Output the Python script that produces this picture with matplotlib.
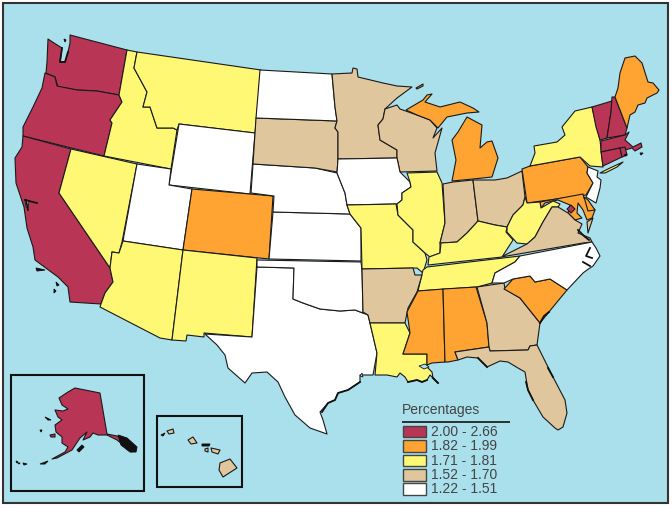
import matplotlib
matplotlib.use("Agg")
import matplotlib.pyplot as plt
from matplotlib.patches import Polygon, Rectangle

plt.rcParams['font.family'] = ['Liberation Sans', 'DejaVu Sans']

legend_title = "Percentages"
class_labels = ["2.00 - 2.66", "1.82 - 1.99", "1.71 - 1.81", "1.52 - 1.70", "1.22 - 1.51"]
class_colors = ["#B93556", "#FFA333", "#FFF875", "#E0C69C", "#FFFFFF"]
ocean = "#A9E0EC"

# class index (0 = highest) of each state
state_class = {
    "WA": 0, "OR": 0, "CA": 0, "NV": 2, "ID": 2, "MT": 2, "WY": 4, "UT": 4, "CO": 1, "AZ": 2, "NM": 2,
    "TX": 4, "OK": 4, "KS": 4, "NE": 4, "SD": 3, "ND": 4, "MN": 3, "WI": 3, "IA": 4, "MO": 2, "IL": 2,
    "IN": 3, "MI": 1, "OH": 3, "PA": 1, "NY": 2, "NJ": 4, "VT": 0, "NH": 0, "ME": 1, "MA": 0, "CT": 0,
    "RI": 0, "MD": 1, "DE": 1, "DC": 0, "WV": 2, "VA": 3, "KY": 2, "TN": 2, "AR": 3, "LA": 2, "MS": 1,
    "AL": 1, "GA": 3, "SC": 1, "NC": 4, "FL": 3, "AK": 0, "HI": 3,
}

# state outlines (x, y in image pixels)
state_shapes = {
    "WA": [[(70,35),(127,50),(119,95),(108,93),(97,91),(77,90),(66,88),(58,87),(55,77),(46,73),(47,62),(48,39),(54,43),(62,48),(60,62),(65,62),(68,52),(70,43)]],
    "OR": [[(45,73),(55,77),(57,86),(77,90),(97,91),(119,95),(122,102),(110,120),(112,123),(104,156),(23,136),(23,127),(33,107),(42,88)]],
    "CA": [[(23,136),(71,149),(59,193),(110,268),(113,282),(105,293),(101,304),(70,302),(68,287),(58,277),(35,260),(33,247),(27,228),(24,207),(16,183),(15,158),(22,147)]],
    "NV": [[(71,149),(137,164),(122,242),(119,253),(112,252),(110,268),(59,193)]],
    "ID": [[(127,50),(137,52),(134,68),(147,92),(143,107),(150,107),(157,128),(173,128),(177,130),(171,169),(104,156),(112,123),(110,120),(122,102),(119,95)]],
    "MT": [[(137,52),(261,70),(255,133),(179,124),(177,130),(173,128),(157,128),(150,107),(143,107),(147,92),(134,68)]],
    "WY": [[(179,124),(255,133),(250,194),(169,185)]],
    "UT": [[(137,164),(171,169),(169,185),(192,189),(183,250),(123,241)]],
    "CO": [[(192,189),(273,196),(269,259),(183,250)]],
    "AZ": [[(123,241),(183,250),(172,340),(160,338),(100,307),(101,304),(105,293),(113,282),(110,268),(112,252),(119,253)]],
    "NM": [[(183,250),(257,258),(252,337),(204,333),(204,337),(187,335),(186,341),(172,340)]],
    "TX": [[(257,267),(294,268),(293,299),(303,303),(320,309),(340,311),(355,310),(368,315),(370,323),(377,353),(373,375),(360,375),(360,382),(348,390),(338,393),(335,400),(328,403),(320,412),(323,420),(327,434),(310,428),(295,415),(285,397),(278,382),(267,372),(252,373),(245,383),(228,368),(225,355),(217,345),(205,334),(252,337)]],
    "OK": [[(257,260),(361,262),(362,270),(363,313),(355,310),(340,311),(320,309),(303,303),(293,299),(294,268),(257,267)]],
    "KS": [[(273,212),(350,214),(357,223),(361,228),(361,261),(269,259)]],
    "NE": [[(253,164),(315,168),(337,173),(345,193),(347,205),(350,214),(273,212),(274,196),(251,193)]],
    "SD": [[(256,118),(337,121),(335,128),(338,132),(338,160),(337,172),(315,168),(253,164)]],
    "ND": [[(260,70),(332,74),(335,107),(337,121),(256,118)]],
    "MN": [[(332,74),(352,73),(353,68),(357,69),(358,77),(383,83),(397,86),(412,87),(397,98),(385,109),(383,119),(378,125),(380,140),(397,150),(397,158),(338,159),(338,132),(335,128),(337,121),(335,107)]],
    "WI": [[(385,109),(397,105),(400,109),(417,115),(430,120),(437,128),(433,138),(442,128),(435,153),(437,171),(400,172),(397,158),(397,150),(380,140),(378,125),(383,119)]],
    "IA": [[(338,159),(397,158),(400,172),(410,182),(411,187),(402,193),(402,200),(397,204),(347,205),(345,193),(337,173)]],
    "MO": [[(347,205),(396,204),(398,215),(413,230),(413,242),(425,253),(427,260),(423,273),(417,268),(362,269),(361,228),(357,223),(350,214)]],
    "IL": [[(407,173),(437,172),(442,183),(445,223),(440,243),(440,253),(430,257),(425,253),(413,242),(413,230),(398,215),(397,204),(402,200),(402,193),(411,187),(410,182)]],
    "IN": [[(443,184),(453,182),(473,180),(478,221),(467,233),(457,242),(443,243),(440,243),(445,223)]],
    "MI": [[(452,181),(473,179),(492,177),(498,158),(492,141),(487,142),(480,148),(482,125),(467,117),(458,132),(452,140),(456,160)],
           [(406,110),(423,100),(427,95),(432,94),(425,102),(440,107),(460,102),(473,108),(479,112),(467,113),(447,117),(438,128),(430,120),(417,115)],
           [(416,88),(423,84),(423,86),(417,89)]],
    "OH": [[(473,180),(495,180),(507,178),(522,171),(525,197),(523,205),(513,215),(507,227),(495,225),(478,221)]],
    "PA": [[(522,169),(530,166),(580,157),(588,167),(587,173),(593,183),(586,195),(527,203)]],
    "NY": [[(530,166),(535,153),(534,146),(557,142),(565,135),(562,127),(575,111),(592,107),(600,140),(603,167),(590,166),(580,157)],
           [(600,173),(610,168),(623,162),(617,167),(605,173)]],
    "NJ": [[(588,167),(598,171),(597,177),(601,180),(600,188),(596,203),(586,197),(593,183),(587,173)]],
    "VT": [[(592,107),(612,101),(611,112),(607,138),(600,140),(596,127)]],
    "NH": [[(612,97),(615,97),(627,128),(625,135),(607,138),(611,112)]],
    "ME": [[(615,97),(618,88),(620,73),(625,58),(635,56),(642,63),(648,82),(653,83),(659,90),(657,93),(647,98),(645,103),(638,105),(635,112),(630,115),(627,128)]],
    "MA": [[(601,141),(625,135),(629,132),(625,140),(633,147),(641,143),(642,147),(635,151),(632,148),(625,150),(620,148),(601,152)]],
    "CT": [[(601,152),(620,148),(622,157),(603,166)]],
    "RI": [[(620,148),(625,147),(627,155),(622,157)]],
    "MD": [[(540,202),(583,194),(584,198),(595,210),(592,218),(587,220),(583,210),(578,203),(577,213),(582,218),(575,220),(568,213),(570,205),(558,200),(553,201),(545,203),(541,208)]],
    "DE": [[(584,197),(588,200),(595,210),(588,211)]],
    "WV": [[(525,197),(527,203),(540,202),(541,208),(553,201),(560,204),(558,207),(552,207),(543,222),(535,237),(527,244),(517,243),(507,232),(507,227),(513,215),(523,205)]],
    "VA": [[(501,257),(515,250),(527,244),(535,237),(543,222),(552,207),(558,207),(568,213),(575,220),(582,224),(578,233),(590,238),(592,242),(583,243)],
           [(593,218),(588,233),(587,222)]],
    "KY": [[(429,257),(440,253),(441,243),(457,242),(467,233),(478,221),(495,225),(507,227),(506,232),(513,240),(502,257),(428,265)]],
    "TN": [[(427,267),(520,256),(515,262),(495,273),(492,283),(477,287),(418,291),(423,270)]],
    "AR": [[(362,269),(413,268),(415,275),(422,275),(417,292),(408,308),(405,323),(370,323),(368,315),(363,312)]],
    "LA": [[(370,323),(405,323),(410,333),(403,354),(427,354),(427,365),(428,368),(432,372),(433,378),(438,383),(430,375),(427,380),(422,382),(417,380),(408,382),(405,377),(400,373),(397,377),(387,375),(375,375),(377,353)]],
    "MS": [[(418,291),(443,289),(445,362),(432,363),(427,365),(427,354),(403,354),(410,333),(407,312)]],
    "AL": [[(443,289),(476,287),(487,323),(489,347),(455,352),(458,360),(448,362),(445,362)]],
    "GA": [[(477,287),(504,283),(505,289),(520,298),(540,323),(537,345),(530,346),(528,350),(490,351),(489,347),(487,323)]],
    "SC": [[(504,289),(513,279),(530,276),(535,282),(550,279),(567,290),(553,307),(540,323),(520,298)]],
    "NC": [[(492,283),(495,273),(515,262),(520,256),(592,242),(596,248),(600,256),(593,266),(587,270),(583,273),(567,290),(550,279),(535,282),(530,276),(513,279),(504,283)]],
    "FL": [[(455,352),(489,347),(490,351),(528,350),(530,346),(537,345),(553,377),(565,400),(567,413),(563,427),(558,430),(555,428),(543,417),(533,400),(528,390),(525,372),(518,368),(508,362),(500,361),(487,367),(478,358),(467,357),(458,360)]],
    "DC": [[(571,205),(575,209),(571,213),(567,209)]],
    "AK": [[(75,388),(100,393),(107,434),(117,436),(127,443),(133,447),(132,452),(117,440),(107,435),(98,435),(93,433),(90,437),(83,440),(87,432),(80,438),(72,450),(57,458),(52,459),(65,452),(68,447),(62,443),(62,437),(56,432),(55,425),(62,420),(58,417),(55,410),(63,411),(68,409),(62,405),(59,398),(68,392)],
           [(50,435),(55,434),(55,437),(51,437)]],
    "HI": [[(220,463),(230,459),(237,468),(223,477),(219,470)],
           [(211,448),(220,450),(218,454),(212,452)],
           [(188,440),(193,437),(197,443),(191,444)],
           [(167,431),(173,429),(174,433),(169,434)],
           [(205,449),(208,448),(208,452),(205,451)]],
}

# small dark islands
dark_islands = [
    [(118,435),(127,438),(137,447),(136,452),(130,452),(121,445)],
    [(77,450),(82,445),(84,447),(79,452)],
    [(40,464),(48,461),(45,464)], [(23,463),(27,464),(24,465)],
    [(16,461),(18,462),(17,463)], [(18,463),(20,463),(19,464)],
    [(45,417),(51,420),(48,420)], [(40,430),(42,430),(41,432)],
    [(161,435),(165,433),(163,436)], [(202,444),(210,444),(209,446),(202,446)],
    [(624,155),(627,154),(626,156)], [(640,153),(643,153),(641,155)],
    [(36,268),(45,270),(37,271)], [(56,282),(59,285),(57,286)], [(54,289),(56,291),(54,293)],
    [(64,39),(66,40),(65,42)],
]

# water inside the coast and dark jagged coast stretches
lakes = [[(419,366),(425,364),(429,367),(424,369)], [(25,200),(29,201),(28,208),(26,207)], [(360,376),(362,373),(363,377)]]
dark_coasts = [
    [(322,412),(328,403),(335,400),(338,393),(348,390),(360,382)],
    [(408,382),(417,380),(422,382),(427,380)], [(433,378),(438,383)],
    [(533,400),(528,390),(526,382)], [(548,368),(553,377)],
    [(25,200),(37,203)], [(26,200),(28,210)], [(62,48),(60,62),(65,62),(68,52)],
    [(578,230),(584,236),(589,240)], [(590,248),(586,256),(592,258)], [(583,262),(590,266)],
    [(540,323),(544,316),(549,312)], [(478,358),(487,367)],
]

fig = plt.figure(figsize=(6.72, 5.08), dpi=100, facecolor="white")
ax = fig.add_axes([0, 0, 1, 1])
ax.set_xlim(0, 672)
ax.set_ylim(508, 0)
ax.axis("off")

# frame and inset boxes
ax.add_patch(Rectangle((2.5, 3), 665, 500, fc=ocean, ec="#333333", lw=1.5))
ax.add_patch(Rectangle((11, 374.5), 133, 116.5, fill=False, ec="#111111", lw=1.5))
ax.add_patch(Rectangle((156.5, 416), 85.5, 70.5, fill=False, ec="#111111", lw=1.5))

for st, rings in state_shapes.items():
    for ring in rings:
        ax.add_patch(Polygon(ring, closed=True, fc=class_colors[state_class[st]],
                             ec="#1a1a1a", lw=0.8, joinstyle="round"))
for ring in lakes:
    ax.add_patch(Polygon(ring, closed=True, fc=ocean, ec="#1a1a1a", lw=0.6))
for ring in dark_islands:
    ax.add_patch(Polygon(ring, closed=True, fc="#111111", ec="#111111", lw=0.7))
for line in dark_coasts:
    ax.plot(*zip(*line), color="#111111", lw=1.3, solid_joinstyle="round")

# legend
ax.text(402, 410, legend_title, fontsize=10, color="#444444", va="center", ha="left")
ax.plot([402, 509.5], [422.3, 422.3], color="#222222", lw=1.3, solid_capstyle="butt")
tops = [425.5, 440, 454.5, 469, 483]
for top, lab, col in zip(tops, class_labels, class_colors):
    ax.add_patch(Rectangle((402.5, top), 23, 11.5, fc=col, ec="#444444", lw=1.0))
    ax.text(431, top + 6.2, lab, fontsize=10, color="#444444", va="center", ha="left")

fig.savefig("out.png", dpi=100, facecolor="white")
